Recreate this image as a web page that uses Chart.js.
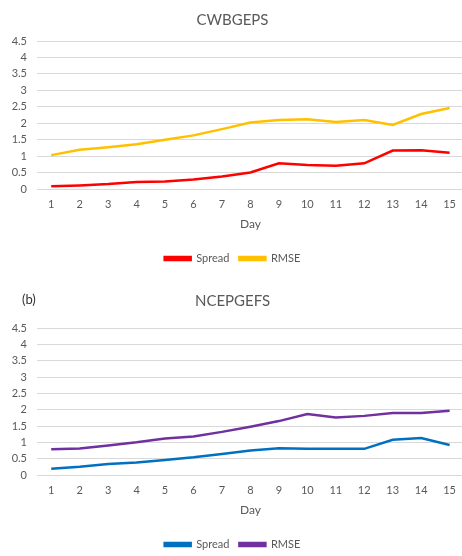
<!DOCTYPE html>
<html>
<head>
<meta charset="utf-8">
<script src="https://cdn.jsdelivr.net/npm/chart.js@4"></script>
<style>
  html, body { margin: 0; padding: 0; background: #fff; width: 462px; height: 556px; overflow: hidden; }
  .panel { position: absolute; left: 0; }
  #tag { position: absolute; left: 22px; top: 291px; font: 13px Lato, sans-serif; color: #333; }
</style>
</head>
<body>
<div class="panel" style="top:0"><canvas id="cwb" width="465" height="278"></canvas></div>
<div class="panel" style="top:278px"><canvas id="ncep" width="465" height="288"></canvas></div>
<div id="tag">(b)</div>
<script>
const days = ['1','2','3','4','5','6','7','8','9','10','11','12','13','14','15'];

// CWBGEPS
const cwbSpread = [0.08, 0.11, 0.15, 0.21, 0.23, 0.29, 0.38, 0.50, 0.78, 0.73, 0.71, 0.78, 1.17, 1.18, 1.10];
const cwbRmse   = [1.03, 1.19, 1.27, 1.36, 1.50, 1.63, 1.82, 2.02, 2.10, 2.12, 2.04, 2.10, 1.95, 2.28, 2.46];

// NCEPGEFS
const ncepSpread = [0.19, 0.25, 0.34, 0.38, 0.46, 0.54, 0.64, 0.75, 0.82, 0.80, 0.80, 0.80, 1.08, 1.13, 0.92];
const ncepRmse   = [0.79, 0.81, 0.90, 1.00, 1.12, 1.18, 1.32, 1.48, 1.65, 1.87, 1.76, 1.81, 1.90, 1.90, 1.97];

const grey = '#595959';
const font = 'Lato, sans-serif';

function makeChart(id, title, spread, rmse, spreadColor, rmseColor, titleTop, titleBottom, padBottom) {
    const ctx = document.getElementById(id).getContext('2d');
    return new Chart(ctx, {
        type: 'line',
        data: {
            labels: days,
            datasets: [
                { label: 'Spread', data: spread, borderColor: spreadColor, backgroundColor: spreadColor, borderWidth: 2.5, pointRadius: 0, tension: 0 },
                { label: 'RMSE', data: rmse, borderColor: rmseColor, backgroundColor: rmseColor, borderWidth: 2.5, pointRadius: 0, tension: 0 }
            ]
        },
        options: {
            responsive: false,
            animation: false,
            layout: { padding: { left: 0, right: 0, top: 0, bottom: padBottom } },
            plugins: {
                title: {
                    display: true,
                    text: title,
                    color: grey,
                    font: { family: font, size: 15, weight: 'normal' },
                    padding: { top: titleTop, bottom: titleBottom }
                },
                legend: {
                    position: 'bottom',
                    labels: {
                        color: grey,
                        font: { family: font, size: 11 },
                        boxWidth: 26,
                        boxHeight: 3,
                        padding: 10
                    }
                },
                tooltip: { enabled: false }
            },
            scales: {
                x: {
                    offset: true,
                    grid: { display: false, drawTicks: false },
                    border: { display: false },
                    ticks: { color: grey, font: { family: font, size: 11 }, padding: 9, maxRotation: 0 },
                    title: { display: true, text: 'Day', color: grey, font: { family: font, size: 12 }, padding: { top: 0, bottom: 12 } },
                    afterFit: function (scale) { scale.height = 54; }
                },
                y: {
                    min: 0,
                    max: 4.5,
                    grid: { color: '#d9d9d9', drawTicks: false },
                    border: { display: false },
                    ticks: {
                        stepSize: 0.5,
                        autoSkip: false,
                        color: grey,
                        font: { family: font, size: 11 },
                        padding: 10,
                        callback: function (v) { return String(Math.round(v * 10) / 10); }
                    },
                    afterFit: function (scale) { scale.width = 37; }
                }
            }
        }
    });
}

makeChart('cwb', 'CWBGEPS', cwbSpread, cwbRmse, '#ff0000', '#ffc000', 11, 12, 4);
makeChart('ncep', 'NCEPGEFS', ncepSpread, ncepRmse, '#0070c0', '#7030a0', 14, 18, 6);
</script>
</body>
</html>
